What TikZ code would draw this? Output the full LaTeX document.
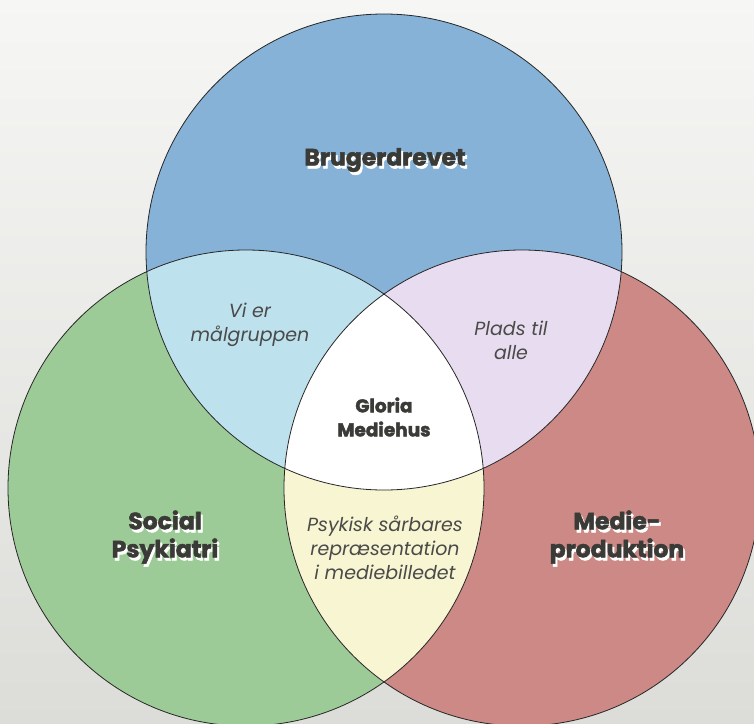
\documentclass[tikz,border=0pt]{standalone}
\usepackage{fontspec}
\setmainfont{Poppins}
\newfontfamily\heavyfont{Poppins}[BoldFeatures={FakeBold=2.2}]
\usepackage{tikz}
\usetikzlibrary{positioning}
\definecolor{bgtop}{HTML}{F6F6F4}
\definecolor{bgbottom}{HTML}{DCDCD9}
\definecolor{vennblue}{HTML}{85B2D6}
\definecolor{venngreen}{HTML}{9DCB97}
\definecolor{vennred}{HTML}{CC8985}
\definecolor{vennsky}{HTML}{BEE1EE}
\definecolor{vennlilac}{HTML}{E8DDF0}
\definecolor{vennyellow}{HTML}{F8F5D3}
\definecolor{vennink}{HTML}{3A3A37}
\definecolor{venngray}{HTML}{4A4A48}

\begin{document}
\begin{tikzpicture}[
  x=1pt, y=-1pt,
  circ/.style={draw=black!85, line width=0.8pt},
  title/.style={font=\fontsize{23.5}{28}\selectfont\heavyfont\bfseries,
    text=vennink, align=center, inner sep=0pt},
  titleshadow/.style={title, text=white},
  overlap/.style={font=\fontsize{19}{24}\selectfont\itshape, text=venngray,
    align=center, inner sep=0pt},
  centre/.style={font=\fontsize{18.5}{24}\selectfont\heavyfont\bfseries,
    text=vennink, align=center, inner sep=0pt}
]
  \useasboundingbox (0,0) rectangle (754,723);
  \shade[top color=bgtop, bottom color=bgbottom] (0,0) rectangle (754,723);

  \begin{scope}
    \clip (0,0) rectangle (754,723);
    % the three sets
    \fill[vennblue] (384,252) circle (238pt);
    \fill[venngreen] (246,488) circle (238pt);
    \fill[vennred] (522,488) circle (238pt);
    % pairwise overlaps
    \begin{scope}
      \clip (384,252) circle (238pt);
      \fill[vennsky] (246,488) circle (238pt);
      \fill[vennlilac] (522,488) circle (238pt);
    \end{scope}
    \begin{scope}
      \clip (246,488) circle (238pt);
      \fill[vennyellow] (522,488) circle (238pt);
    \end{scope}
    % centre
    \begin{scope}
      \clip (384,252) circle (238pt);
      \clip (246,488) circle (238pt);
      \fill[white] (522,488) circle (238pt);
    \end{scope}
    \draw[circ] (384,252) circle (238pt);
    \draw[circ] (246,488) circle (238pt);
    \draw[circ] (522,488) circle (238pt);
  \end{scope}

  % set names, with a white shadow
  \node[titleshadow] (brug-shadow) at (387,163) {Brugerdrevet};
  \node[title] (brug) at (385,160) {Brugerdrevet};
  \node[titleshadow] (social-shadow) at (167,540) {Social\\Psykiatri};
  \node[title] (social) at (165,537) {Social\\Psykiatri};
  \node[titleshadow] (medie-shadow) at (619,540) {Medie-\\produktion};
  \node[title] (medie) at (617,537) {Medie-\\produktion};

  % overlaps
  \node[overlap] (maal) at (250,325) {Vi er\\målgruppen};
  \node[overlap] (plads) at (511,340) {Plads til\\alle};
  \node[overlap] (psyk) at (385,548) {Psykisk sårbares\\repræsentation\\i mediebilledet};
  \node[centre] (gloria) at (384,417) {Gloria\\Mediehus};
\end{tikzpicture}
\end{document}
